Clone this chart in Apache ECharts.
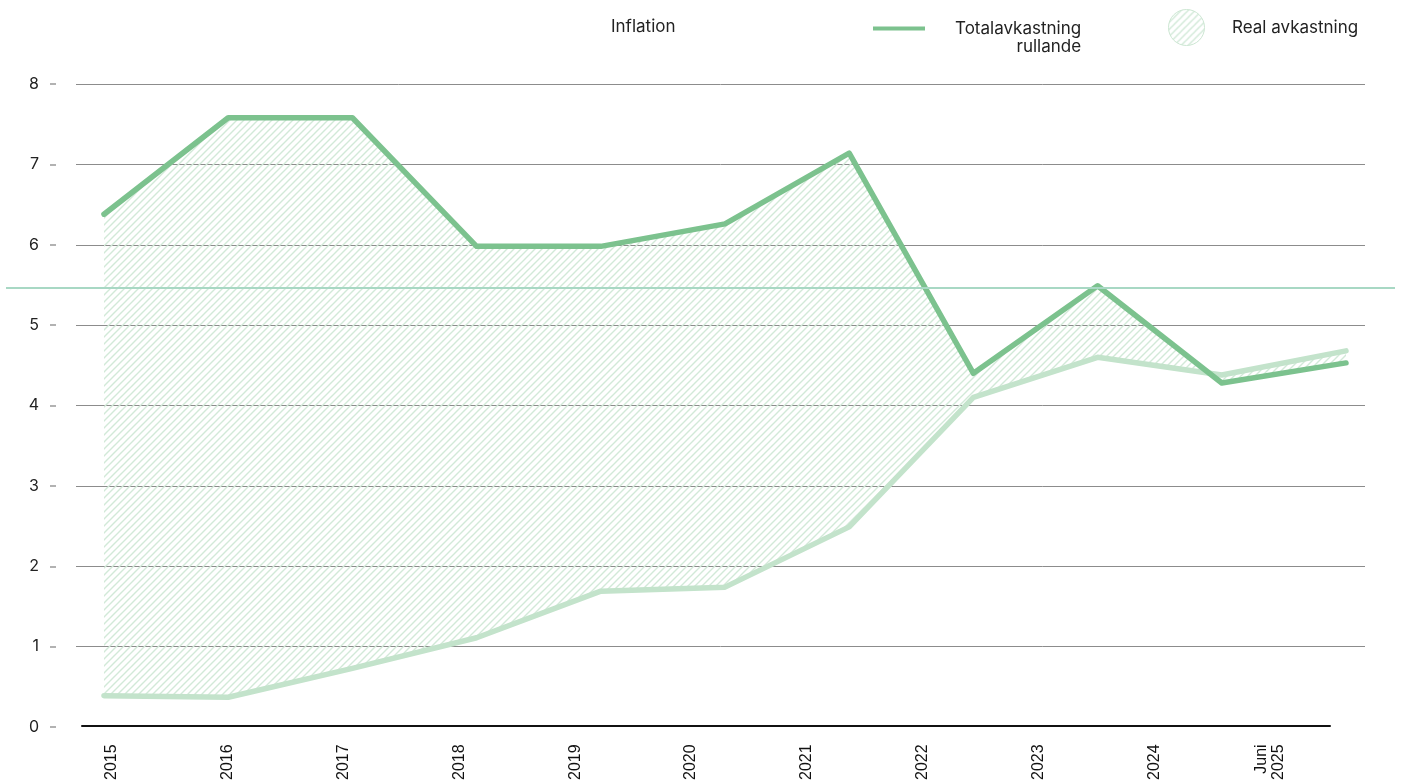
<!DOCTYPE html>
<html>
<head>
<meta charset="utf-8">
<script src="https://cdn.jsdelivr.net/npm/echarts@6/dist/echarts.min.js"></script>
<style>
html,body{margin:0;padding:0;background:#fff;}
#chart{width:1401px;height:783px;}
</style>
</head>
<body>
<div id="chart"></div>
<script>
// ---- data ----
const years = ['2015','2016','2017','2018','2019','2020','2021','2022','2023','2024','Juni\n2025'];
const totalReturn = [6.38, 7.58, 7.58, 5.98, 5.98, 6.26, 7.14, 4.40, 5.49, 4.28, 4.53];
const inflation   = [0.39, 0.37, 0.73, 1.11, 1.69, 1.74, 2.49, 4.10, 4.60, 4.38, 4.68];
const refLineValue = 5.47;
const seriesNames = { infl: 'Inflation', total: 'Totalavkastning rullande', real: 'Real avkastning' };

// ---- hatch pattern ----
function makeHatch(size, color, lw) {
  const c = document.createElement('canvas');
  c.width = size; c.height = size;
  const ctx = c.getContext('2d');
  ctx.strokeStyle = color; ctx.lineWidth = lw;
  ctx.beginPath();
  ctx.moveTo(-1, size + 1); ctx.lineTo(size + 1, -1);
  ctx.moveTo(-1, 1); ctx.lineTo(1, -1);
  ctx.moveTo(size - 1, size + 1); ctx.lineTo(size + 1, size - 1);
  ctx.stroke();
  return c;
}
const hatch = makeHatch(7, '#d2e9d8', 1.4);
const hatchPattern = { image: hatch, repeat: 'repeat' };

const idx = years.map((_, i) => i);
const totalData = totalReturn.map((v, i) => [i, v]);
const inflData = inflation.map((v, i) => [i, v]);

const font = 'Inter, "Noto Sans", sans-serif';
const chart = echarts.init(document.getElementById('chart'), null, { renderer: 'canvas' });

chart.setOption({
  animation: false,
  backgroundColor: '#ffffff',
  grid: [
    { left: 76, right: 36, top: 84, bottom: 56 },
    { left: 82, right: 71, top: 84, bottom: 56 },
    { left: 6, right: 6, top: 84, bottom: 56 },
    { left: 56, width: 10, top: 84, bottom: 56 }
  ],
  legend: [
    {
      data: [{ name: seriesNames.infl, icon: 'rect', itemStyle: { color: 'rgba(0,0,0,0)', opacity: 0 } }],
      left: 605, top: 17, itemWidth: 1, itemHeight: 20, padding: 0, selectedMode: false,
      textStyle: { fontFamily: font, fontSize: 17, color: '#222' }
    },
    {
      data: [{ name: seriesNames.total, icon: 'rect' }],
      left: 873, top: 20, itemWidth: 52, itemHeight: 4, padding: 0, selectedMode: false,
      formatter: () => '{r|Totalavkastning}\n{r|rullande}',
      textStyle: {
        fontFamily: font, fontSize: 17, color: '#222', padding: [18, 0, 0, 25],
        rich: { r: { align: 'right', fontFamily: font, fontSize: 17, color: '#222', lineHeight: 18 } }
      }
    },
    {
      data: [{ name: seriesNames.real, icon: 'circle', itemStyle: { color: hatchPattern, borderColor: '#cde7d3', borderWidth: 1 } }],
      left: 1168, top: 9, itemWidth: 37, itemHeight: 36, padding: 0, selectedMode: false,
      textStyle: { fontFamily: font, fontSize: 17, color: '#222', padding: [0, 0, 0, 22] }
    }
  ],
  xAxis: [
    { gridIndex: 0, type: 'value', min: -0.2254, max: 10.153, show: false },
    {
      gridIndex: 1, type: 'value', min: -0.259, max: 10.518,
      axisLine: { show: true, onZero: false, lineStyle: { color: '#111', width: 2 } },
      axisTick: { show: false },
      splitLine: { show: false },
      axisLabel: {
        customValues: idx,
        formatter: (v) => years[Math.round(v)],
        rotate: 90, margin: 19,
        fontFamily: '"Liberation Sans", Arial, sans-serif', fontSize: 16, color: '#111', lineHeight: 17
      }
    },
    { gridIndex: 2, type: 'value', min: 0, max: 1, show: false },
    { gridIndex: 3, type: 'value', min: 0, max: 1, show: false }
  ],
  yAxis: [
    {
      gridIndex: 0, type: 'value', min: 0, max: 8, interval: 1,
      axisLine: { show: false }, axisTick: { show: false }, axisLabel: { show: false },
      splitLine: { show: true, showMinLine: false, lineStyle: { color: '#8c8c8c', width: 1 } }
    },
    { gridIndex: 1, type: 'value', min: 0, max: 8, show: false },
    { gridIndex: 2, type: 'value', min: 0, max: 8, show: false },
    {
      gridIndex: 3, type: 'value', min: 0, max: 8, interval: 1,
      axisLine: { show: false },
      axisTick: { show: true, length: 6, lineStyle: { color: '#999999', width: 1.5 } },
      axisLabel: { margin: 17, fontFamily: font, fontSize: 16, color: '#222' },
      splitLine: { show: false }
    }
  ],
  series: [
    {
      name: seriesNames.real, type: 'custom', coordinateSystem: 'cartesian2d',
      xAxisIndex: 0, yAxisIndex: 0,
      data: [[0, totalReturn[0]]],
      itemStyle: { color: '#d2e9d8' },
      silent: true, z: 1,
      renderItem: function (params, api) {
        const upper = totalReturn.map((v, i) => api.coord([i, v]));
        const lower = inflation.map((v, i) => api.coord([i, v])).reverse();
        return {
          type: 'polygon',
          shape: { points: upper.concat(lower) },
          style: { fill: hatchPattern, stroke: null },
          silent: true
        };
      }
    },
    {
      name: seriesNames.infl, type: 'line', xAxisIndex: 0, yAxisIndex: 0,
      data: inflData, showSymbol: false, symbol: 'none',
      itemStyle: { color: '#c3e3cb' },
      lineStyle: { color: '#c3e3cb', width: 5.5, cap: 'round', join: 'round' },
      emphasis: { disabled: true }, z: 3
    },
    {
      name: seriesNames.total, type: 'line', xAxisIndex: 0, yAxisIndex: 0,
      data: totalData, showSymbol: false, symbol: 'none',
      itemStyle: { color: '#7cc28e' },
      lineStyle: { color: '#7cc28e', width: 5.5, cap: 'round', join: 'round' },
      emphasis: { disabled: true }, z: 4
    },
    {
      name: 'ref', type: 'line', xAxisIndex: 2, yAxisIndex: 2,
      data: [[0.5, refLineValue]], showSymbol: false, symbol: 'none', lineStyle: { width: 0 },
      silent: true, z: 2,
      markLine: {
        silent: true, symbol: 'none', label: { show: false },
        lineStyle: { color: '#a8d8c4', width: 2, type: 'solid' },
        data: [{ yAxis: refLineValue }]
      }
    }
  ]
});
</script>
</body>
</html>
